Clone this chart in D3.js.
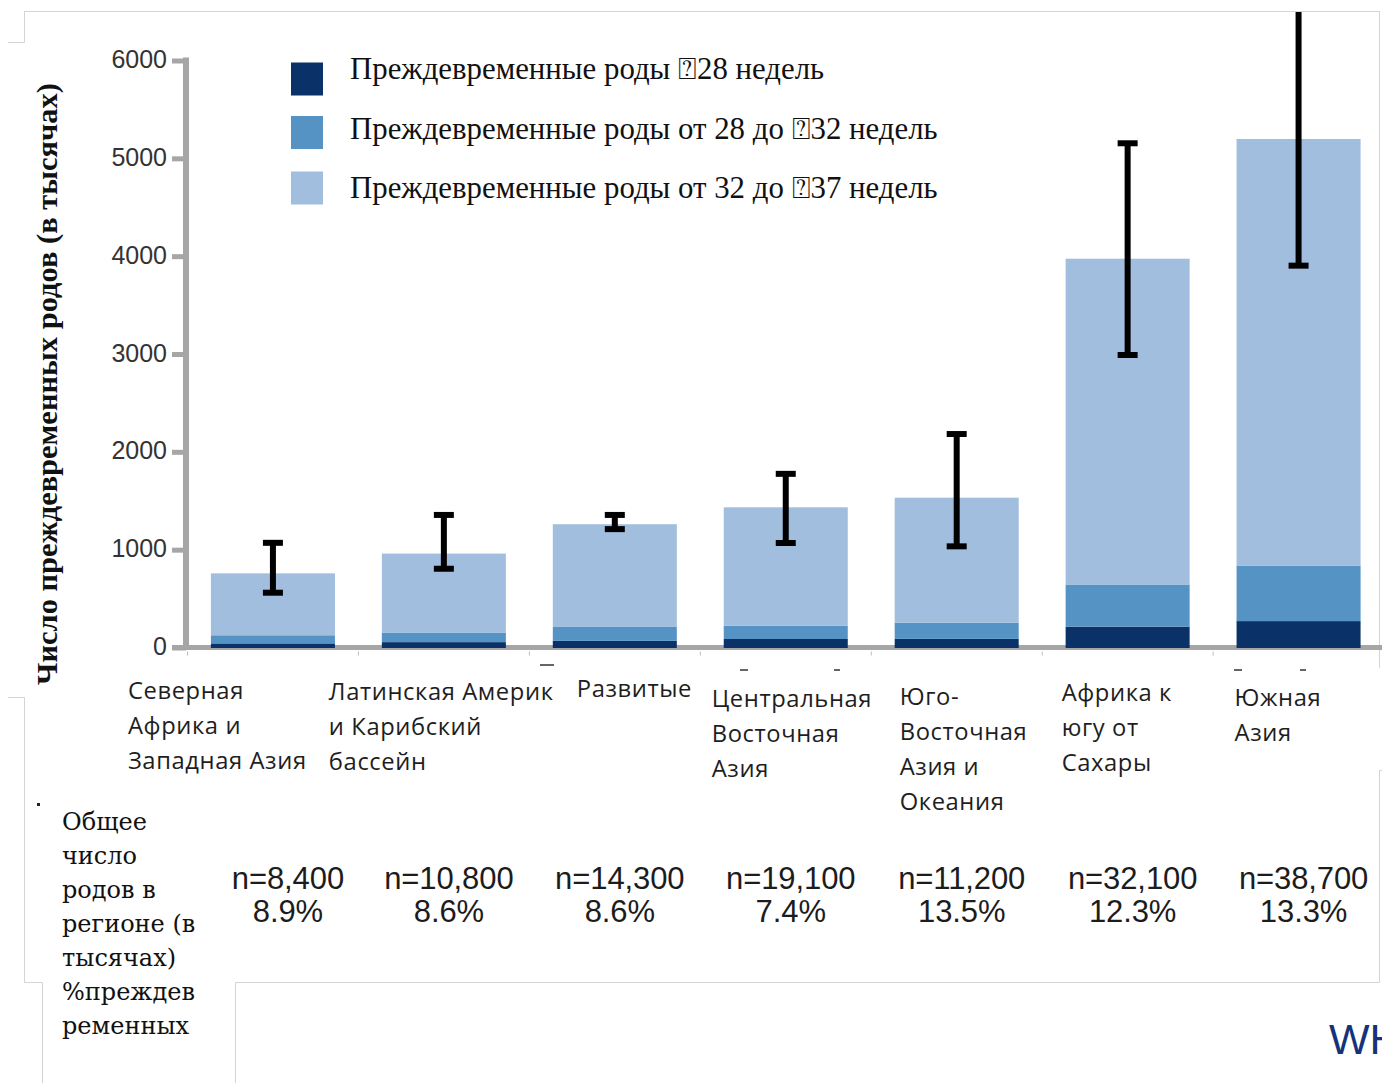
<!DOCTYPE html>
<html>
<head>
<meta charset="utf-8">
<script src="https://cdn.jsdelivr.net/npm/d3@7"></script>
<style>
  html, body { margin: 0; padding: 0; background: #fff; }
  svg { display: block; }
</style>
</head>
<body>
<svg id="chart" width="1382" height="1083"></svg>
<script>
// ---------------- DATA ----------------
const categories = [
  "Северная Африка и Западная Азия",
  "Латинская Америка и Карибский бассейн",
  "Развитые",
  "Центральная Восточная Азия",
  "Юго-Восточная Азия и Океания",
  "Африка к югу от Сахары",
  "Южная Азия"
];
const categoryLines = [
  ["Северная", "Африка и", "Западная Азия"],
  ["Латинская Америк", "и Карибский", "бассейн"],
  ["Развитые"],
  ["Центральная", "Восточная", "Азия"],
  ["Юго-", "Восточная", "Азия и", "Океания"],
  ["Африка к", "югу от", "Сахары"],
  ["Южная", "Азия"]
];
// thousands of preterm births, per gestational-age group (stacked)
const under28   = [42, 55, 68, 87, 88, 213, 270];
const w28to32   = [83, 98, 142, 136, 166, 431, 568];
const w32to37   = [633, 807, 1050, 1210, 1277, 3330, 4360];
// uncertainty range of the total
const errLow    = [560, 805, 1210, 1068, 1034, 2990, 3903];
const errHigh   = [1070, 1355, 1355, 1775, 2182, 5154, 6700];
// table below the chart
const totalBirths = ["n=8,400", "n=10,800", "n=14,300", "n=19,100", "n=11,200", "n=32,100", "n=38,700"];
const pretermRate = ["8.9%", "8.6%", "8.6%", "7.4%", "13.5%", "12.3%", "13.3%"];
const yTicks = [0, 1000, 2000, 3000, 4000, 5000, 6000];
const seriesNames = [
  "Преждевременные роды \u237028 недель",
  "Преждевременные роды от 28 до \u237032 недель",
  "Преждевременные роды от 32 до \u237037 недель"
];
const yAxisTitle = "Число преждевременных родов (в тысячах)";
const rowTitleLines = ["Общее", "число", "родов в", "регионе (в", "тысячах)", "%преждев", "ременных"];

// ---------------- LAYOUT ----------------
const colors = ["#0b3268", "#5593c5", "#a1bedf"];
const axisColor = "#a6a6a6";
const svg = d3.select("#chart");

svg.append("rect").attr("width", 1382).attr("height", 1083).attr("fill", "#fff");

const x = d3.scaleBand().domain(categories).range([187.5, 1384])
  .paddingInner(0.2745).paddingOuter(0.137);
const y = d3.scaleLinear().domain([0, 6000]).range([647.5, 60.5]);

// slide frame remnants
const frame = svg.append("g").attr("stroke", "#d4d4d4").attr("stroke-width", 1).attr("fill", "none");
[
  [[24, 11.5], [1379.5, 11.5]],
  [[24.5, 11], [24.5, 42.5], [8, 42.5]],
  [[1379.5, 11], [1379.5, 668]],
  [[8, 697.5], [24.5, 697.5], [24.5, 982.5], [42.5, 982.5], [42.5, 1083]],
  [[235.5, 1083], [235.5, 982.5], [1379.5, 982.5], [1379.5, 770.5], [1382, 770.5]]
].forEach(pts => frame.append("path").attr("d", d3.line()(pts)));

// stacked data
const stackInput = categories.map((c, i) => ({ cat: c, a: under28[i], b: w28to32[i], c: w32to37[i] }));
const stack = d3.stack().keys(["a", "b", "c"])(stackInput);

// baseline
const base = svg.append("g");
base.append("line").attr("x1", 172).attr("x2", 1382).attr("y1", y(0)).attr("y2", y(0))
  .attr("stroke", axisColor).attr("stroke-width", 5);
// small category separators under the baseline
d3.range(categories.length + 1).forEach(k => {
  const bx = x.range()[0] + k * x.step();
  base.append("line").attr("x1", bx).attr("x2", bx).attr("y1", 651.5).attr("y2", 655.5)
    .attr("stroke", "#bbb").attr("stroke-width", 1);
});

// bars
stack.forEach((layer, li) => {
  svg.append("g").attr("fill", colors[li])
    .selectAll("rect").data(layer).enter().append("rect")
    .attr("x", d => x(d.data.cat))
    .attr("width", x.bandwidth())
    .attr("y", d => y(d[1]))
    .attr("height", d => y(d[0]) - y(d[1]) + (li === 0 ? 0.5 : 0));
});

// y axis
const yAxis = svg.append("g").attr("transform", "translate(186,0)")
  .call(d3.axisLeft(y).tickValues(yTicks).tickSize(14).tickSizeOuter(0).tickPadding(5).tickFormat(d3.format("d")));
yAxis.select(".domain").attr("stroke", axisColor).attr("stroke-width", 6)
  .attr("d", `M0,${y(6000) - 3}V${y(0) + 2.5}`);
yAxis.selectAll(".tick line").attr("stroke", axisColor).attr("stroke-width", 5);
yAxis.selectAll(".tick text").attr("fill", "#333").attr("font-size", 25)
  .attr("font-family", "'Liberation Sans', Arial, sans-serif").attr("dy", "0.28em");

// error bars
svg.append("clipPath").attr("id", "clipTop").append("rect")
  .attr("x", 0).attr("y", 12).attr("width", 1382).attr("height", 1071);
const eg = svg.append("g").attr("clip-path", "url(#clipTop)").attr("stroke", "#000").attr("stroke-width", 6);
categories.forEach((c, i) => {
  const cx = x(c) + x.bandwidth() / 2;
  eg.append("line").attr("x1", cx).attr("x2", cx).attr("y1", y(errLow[i])).attr("y2", y(errHigh[i]));
  [errLow[i], errHigh[i]].forEach(v => {
    eg.append("line").attr("x1", cx - 10).attr("x2", cx + 10).attr("y1", y(v)).attr("y2", y(v));
  });
});

// helper: fit font size of a text to a target width
function fitWidth(sel, target) {
  const w = sel.node().getComputedTextLength();
  const fs = parseFloat(sel.attr("font-size"));
  const nfs = fs * target / w;
  sel.attr("font-size", nfs);
  return nfs;
}

// y-axis title
const yt = svg.append("text").text(yAxisTitle)
  .attr("font-family", "'Liberation Serif', 'DejaVu Serif', serif").attr("font-weight", "bold")
  .attr("font-size", 26).attr("fill", "#111").attr("text-anchor", "middle")
  .attr("transform", "translate(57,384) rotate(-90)");
fitWidth(yt, 602);

// legend
const legend = svg.append("g");
const legTops = [62.5, 116, 171.5];
const legBase = [79, 138.5, 198];
const legTexts = seriesNames.map((name, i) => {
  legend.append("rect").attr("x", 291).attr("y", legTops[i]).attr("width", 32).attr("height", 33).attr("fill", colors[i]);
  return legend.append("text").text(name).attr("x", 350).attr("y", legBase[i])
    .attr("font-family", "'Liberation Serif', 'DejaVu Serif', serif").attr("font-size", 26)
    .attr("fill", "#111");
});
const lfs = fitWidth(legTexts[2], 588);
legTexts.forEach(t => t.attr("font-size", lfs));

// category labels
const labelDx = [-145, -115, -38, -74, -57, -66, -64];
const labelBase = [699, 700, 697, 707, 705, 701, 706];
const catG = svg.append("g").attr("font-family", "'Open Sans', 'Noto Sans', sans-serif").attr("fill", "#1e1e1e");
const catTexts = [];
categories.forEach((c, i) => {
  const cx = x(c) + x.bandwidth() / 2;
  categoryLines[i].forEach((ln, j) => {
    catTexts.push(catG.append("text").text(ln).attr("x", cx + labelDx[i]).attr("y", labelBase[i] + j * 35)
      .attr("font-size", 23).attr("letter-spacing", 0.6));
  });
});
const cfs = fitWidth(catTexts[2], 179);
catTexts.forEach(t => t.attr("font-size", cfs));

// table row: totals and rates
const tg = svg.append("g").attr("font-family", "'Liberation Sans', Arial, sans-serif")
  .attr("fill", "#1c1c1c").attr("text-anchor", "middle").attr("font-size", 31).attr("letter-spacing", -0.1);
categories.forEach((c, i) => {
  const cx = x(c) + x.bandwidth() / 2 + (i === 0 ? 15 : 5);
  tg.append("text").text(totalBirths[i]).attr("x", cx).attr("y", 889);
  tg.append("text").text(pretermRate[i]).attr("x", cx).attr("y", 922);
});

// row title
const rg = svg.append("g").attr("font-family", "'DejaVu Serif', 'Liberation Serif', serif")
  .attr("font-size", 24).attr("fill", "#111");
const rowTexts = rowTitleLines.map((ln, j) => rg.append("text").text(ln).attr("x", 62).attr("y", 830 + j * 34));
const rfs = fitWidth(rowTexts[3], 136);
rowTexts.forEach(t => t.attr("font-size", rfs));
svg.append("rect").attr("x", 37).attr("y", 803).attr("width", 3).attr("height", 3).attr("fill", "#222");

// stray marks under the axis
[[540, 664, 14], [740, 669, 8], [834, 669, 6], [1234, 669, 8], [1300, 669, 6]].forEach(m =>
  svg.append("rect").attr("x", m[0]).attr("y", m[1]).attr("width", m[2]).attr("height", 2).attr("fill", "#666"));

// logo fragment (cut at the right edge, as in the source slide)
svg.append("text").text("WH").attr("x", 1329).attr("y", 1054)
  .attr("font-family", "'Liberation Sans', Arial, sans-serif").attr("font-size", 43).attr("fill", "#14337a");
</script>
</body>
</html>
